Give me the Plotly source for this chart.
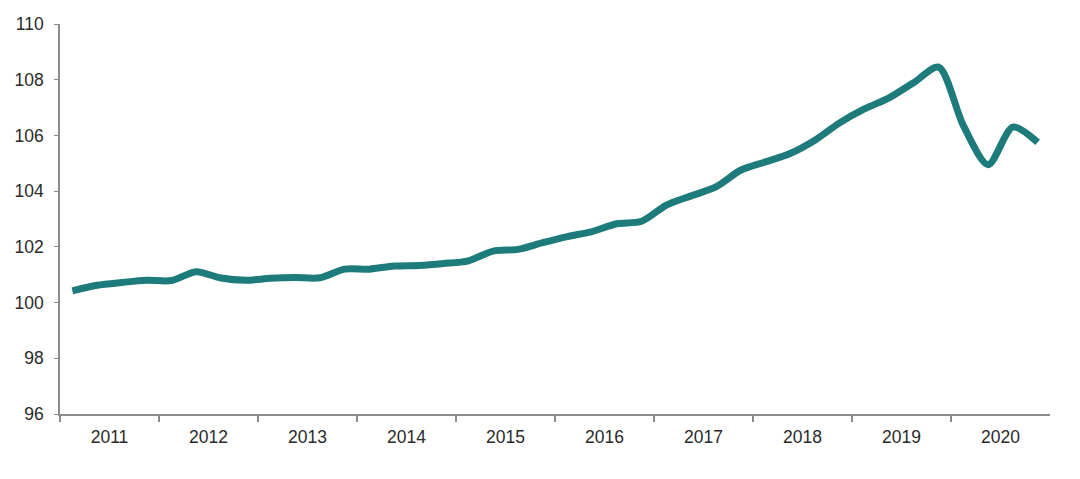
import plotly.graph_objects as go

years = [2011, 2012, 2013, 2014, 2015, 2016, 2017, 2018, 2019, 2020]
quarters = [1, 2, 3, 4]
index_values = [
    100.42, 100.62, 100.72, 100.80,   # 2011
    100.79, 101.11, 100.88, 100.80,   # 2012
    100.87, 100.90, 100.89, 101.20,   # 2013
    101.20, 101.31, 101.33, 101.40,   # 2014
    101.50, 101.85, 101.91, 102.15,   # 2015
    102.37, 102.55, 102.83, 102.92,   # 2016
    103.50, 103.83, 104.15, 104.75,   # 2017
    105.05, 105.35, 105.83, 106.45,   # 2018
    106.95, 107.35, 107.90, 108.45,   # 2019
    106.35, 104.95, 106.30, 105.75,   # 2020
]
y_ticks = [96, 98, 100, 102, 104, 106, 108, 110]

x_pos = [y + (q - 0.5) / 4 for y in years for q in quarters]

fig = go.Figure()
fig.add_trace(go.Scatter(
    x=x_pos, y=index_values, mode="lines",
    line=dict(color="#1d7b7c", width=7, shape="spline", smoothing=0.8),
    hoverinfo="skip", showlegend=False,
))

tfont = dict(family="Liberation Sans, Arial, Helvetica, sans-serif", size=17.5, color="#2a2a2a")

# page body has an 8px margin, so the figure is offset by 8px
fig.update_layout(
    width=1072, height=471,
    margin=dict(l=52, r=30, t=16, b=65),
    paper_bgcolor="white", plot_bgcolor="white",
    font=tfont,
    xaxis=dict(
        range=[2011, 2021], showgrid=False, zeroline=False, automargin=False,
        showline=True, linecolor="#8c8c8c", linewidth=1.5,
        tickmode="array", tickvals=[y + 0.5 for y in years],
        ticktext=[str(y) for y in years], ticks="", ticklen=0,
        tickfont=tfont, ticklabelstandoff=6,
        minor=dict(tickmode="array", tickvals=years, ticks="outside",
                   ticklen=6, tickcolor="#8c8c8c", tickwidth=1.5, showgrid=False),
    ),
    yaxis=dict(
        range=[96, 110], showgrid=False, zeroline=False, automargin=False,
        showline=True, linecolor="#8c8c8c", linewidth=1.5,
        tickmode="array", tickvals=y_ticks, ticks="outside", ticklen=4,
        tickcolor="#8c8c8c", tickwidth=1, tickfont=tfont, ticklabelstandoff=7,
    ),
)

fig.write_html("out.html")
